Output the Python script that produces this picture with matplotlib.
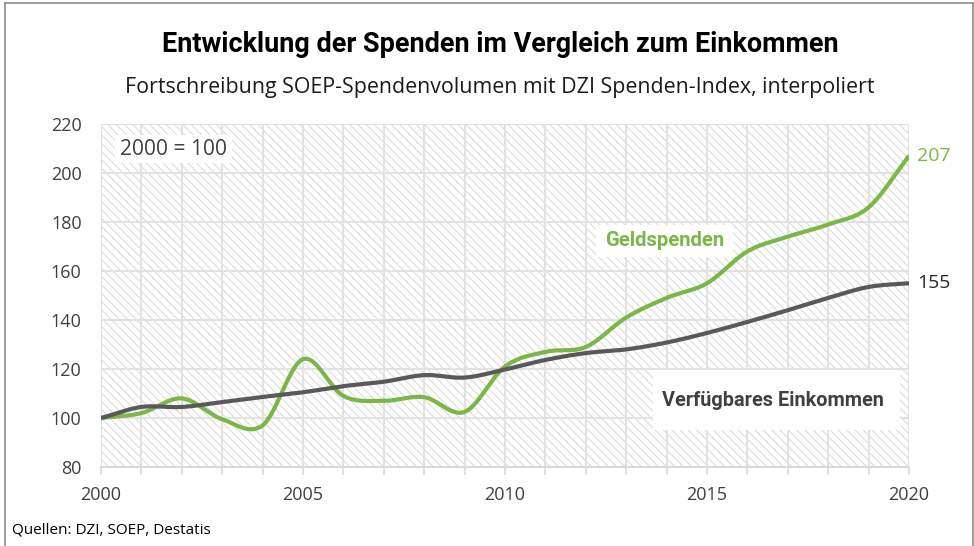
import numpy as np
import matplotlib
matplotlib.use("Agg")
import matplotlib.pyplot as plt
import matplotlib.font_manager as fm
from matplotlib.patches import Rectangle
from matplotlib.lines import Line2D

years = list(range(2000, 2021))
geldspenden = [100, 102, 108, 99.5, 97, 124, 109, 107, 108.5, 102.5, 121,
               127, 129, 141, 149, 155, 168, 174, 179, 186, 207]
einkommen = [100, 104.5, 104.5, 106.5, 108.6, 110.5, 113, 114.8, 117.5, 116.5, 119.8,
             123.7, 126.5, 128, 130.8, 134.7, 139.2, 144, 149, 153.5, 155]
y_ticks = [80, 100, 120, 140, 160, 180, 200, 220]
x_ticks = [2000, 2005, 2010, 2015, 2020]

GREEN = "#7ab648"
DARK = "#595959"
REG = ["Open Sans", "DejaVu Sans"]


def cond(size):
    return fm.FontProperties(family=["Roboto", "DejaVu Sans"], weight="bold", size=size)


def smooth(x, y, n=30):
    x = np.asarray(x, float)
    y = np.asarray(y, float)
    px = np.concatenate([[2 * x[0] - x[1]], x, [2 * x[-1] - x[-2]]])
    py = np.concatenate([[2 * y[0] - y[1]], y, [2 * y[-1] - y[-2]]])
    xs, ys = [], []
    for i in range(1, len(px) - 2):
        p0, p1, p2, p3 = (np.array([px[j], py[j]]) for j in (i - 1, i, i + 1, i + 2))
        c1 = p1 + (p2 - p0) / 6
        c2 = p2 - (p3 - p1) / 6
        t = np.linspace(0, 1, n, endpoint=(i == len(px) - 3))[:, None]
        pts = ((1 - t) ** 3) * p1 + 3 * ((1 - t) ** 2) * t * c1 + 3 * (1 - t) * t ** 2 * c2 + t ** 3 * p2
        xs.append(pts[:, 0])
        ys.append(pts[:, 1])
    return np.concatenate(xs), np.concatenate(ys)


fig = plt.figure(figsize=(9.74, 5.46), dpi=100)
renderer = fig.canvas.get_renderer()


def fit(t, target_px):
    w = t.get_window_extent(renderer).width
    t.set_fontsize(t.get_fontsize() * target_px / w)


ax = fig.add_axes([101 / 974, 79 / 546, 808 / 974, 343 / 546])
ax.set_xlim(2000, 2020)
ax.set_ylim(80, 220)

plt.rcParams["hatch.linewidth"] = 0.8
ax.add_patch(Rectangle((0, 0), 1, 1, transform=ax.transAxes, facecolor="white",
                       edgecolor="#dcdcdc", hatch="\\\\\\\\", lw=0, zorder=0))

ax.set_xticks(years)
ax.set_xticklabels([str(y) if y in x_ticks else "" for y in years])
ax.set_yticks(y_ticks)
ax.set_yticklabels([str(v) for v in y_ticks])
ax.grid(True, color="#e2e2e2", lw=1.5, zorder=1)
ax.set_axisbelow(True)
for s in ["top", "right", "left"]:
    ax.spines[s].set_visible(False)
ax.spines["bottom"].set_color("#d9d9d9")
ax.spines["bottom"].set_linewidth(1.5)
ax.tick_params(axis="x", length=6, width=1.2, color="#d9d9d9", pad=8)
ax.tick_params(axis="y", length=0, pad=14)
for lab in ax.get_xticklabels() + ax.get_yticklabels():
    lab.set_fontfamily(REG)
    lab.set_fontsize(13)
    lab.set_color("#404040")

sx, sy = smooth(years, einkommen)
ax.plot(sx, sy, color=DARK, lw=3, solid_capstyle="butt", zorder=4)
sx, sy = smooth(years, geldspenden)
ax.plot(sx, sy, color=GREEN, lw=3, solid_capstyle="butt", zorder=3)

ax.text(2020.2, geldspenden[-1], f"{geldspenden[-1]:.0f}", color=GREEN, fontsize=14,
        family=REG, va="center", ha="left", clip_on=False)
ax.text(2020.2, einkommen[-1], f"{einkommen[-1]:.0f}", color="#262626", fontsize=14,
        family=REG, va="center", ha="left", clip_on=False)

# label boxes
ax.add_patch(Rectangle((2000.35, 204.0), 2.9, 11.5, facecolor="white", edgecolor="none", zorder=5))
t = ax.text(2001.8, 209.5, "2000 = 100", fontsize=15, family=REG, color="#404040",
            ha="center", va="center", zorder=6)
fit(t, 107)
ax.add_patch(Rectangle((2012.25, 165.7), 3.39, 13.0, facecolor="white", edgecolor="none", zorder=5))
t = ax.text(2013.96, 172.3, "Geldspenden", fontproperties=cond(16),
            color=GREEN, ha="center", va="center", zorder=6)
fit(t, 120)
ax.add_patch(Rectangle((2013.66, 95.1), 6.12, 24.5, facecolor="white", edgecolor="none", zorder=5))
t = ax.text(2016.63, 107.3, "Verfügbares Einkommen", fontproperties=cond(16),
            color="#404040", ha="center", va="center", zorder=6)
fit(t, 222)

t = fig.text(500 / 974, 1 - 52 / 546, "Entwicklung der Spenden im Vergleich zum Einkommen",
             fontproperties=cond(21), ha="center", va="baseline", color="black")
fit(t, 675)
t = fig.text(500 / 974, 1 - 93 / 546, "Fortschreibung SOEP-Spendenvolumen mit DZI Spenden-Index, interpoliert",
             fontsize=15.3, family=REG, ha="center", va="baseline", color="#1a1a1a")
fit(t, 749)
t = fig.text(12 / 974, 1 - 533 / 546, "Quellen: DZI, SOEP, Destatis", fontsize=11,
             family=REG, ha="left", va="baseline", color="black")
fit(t, 199)

for xs_, ys_ in [([5 / 974, 5 / 974], [0, 1 - 2.5 / 546]),
                 ([972.5 / 974, 972.5 / 974], [0, 1 - 2.5 / 546]),
                 ([5 / 974, 972.5 / 974], [1 - 2.5 / 546, 1 - 2.5 / 546])]:
    fig.add_artist(Line2D(xs_, ys_, transform=fig.transFigure, color="#8c8c8c", lw=1.2))

fig.savefig("out.png", dpi=100)
